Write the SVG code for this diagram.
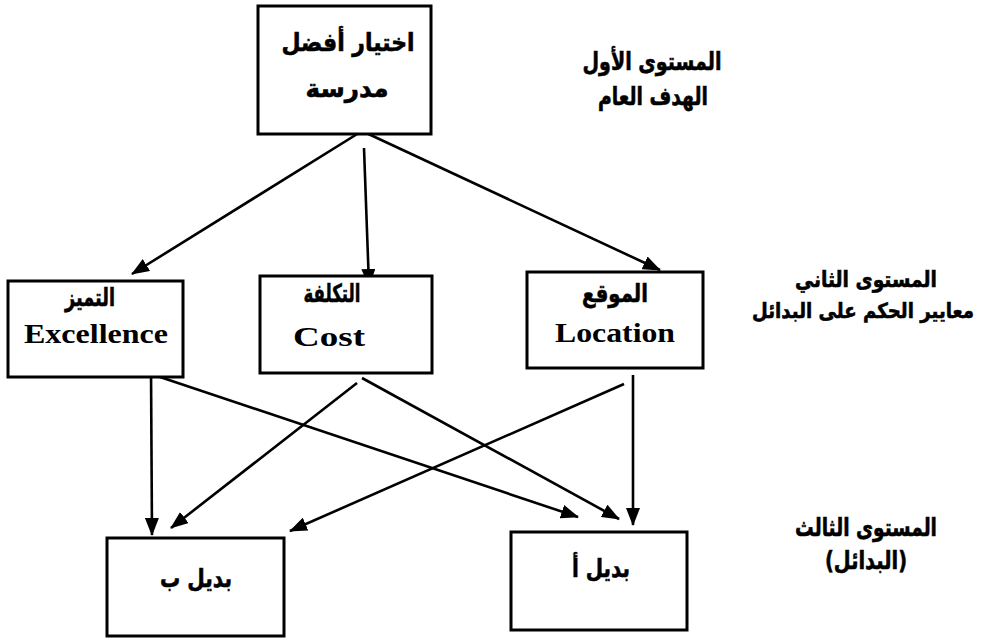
<svg xmlns="http://www.w3.org/2000/svg" width="987" height="640" viewBox="0 0 987 640">
<defs>
<style>
.box{fill:#fff;stroke:#000;stroke-width:3}
.ar{font-family:"DejaVu Sans","Noto Sans",sans-serif;font-weight:bold;font-size:25px;fill:#000;stroke:#000;stroke-width:0.6;text-anchor:middle}
.sm{font-size:22px}
.en{font-family:"Liberation Serif","Times New Roman",serif;font-weight:bold;font-size:28px;fill:#000;text-anchor:middle}
.ln{stroke:#000;stroke-width:2.6;fill:none;marker-end:url(#ah)}
</style>
<marker id="ah" markerUnits="userSpaceOnUse" markerWidth="18" markerHeight="14" refX="17" refY="7" orient="auto">
<path d="M0,0 L18,7 L0,14 z" fill="#000"/>
</marker>
</defs>
<rect width="987" height="640" fill="#fff"/>
<g id="connectors">
<line class="ln" x1="362" y1="131" x2="132" y2="274"/>
<line class="ln" x1="364" y1="148" x2="369" y2="286"/>
<line class="ln" x1="362" y1="131" x2="660" y2="270"/>
<line class="ln" x1="151" y1="369" x2="152" y2="535"/>
<line class="ln" x1="157" y1="376" x2="578" y2="517"/>
<line class="ln" x1="357" y1="383" x2="171" y2="528"/>
<line class="ln" x1="362" y1="378" x2="619" y2="519"/>
<line class="ln" x1="633" y1="375" x2="633" y2="525"/>
<line class="ln" x1="624" y1="384" x2="290" y2="531"/>
</g>
<g id="goal">
<rect class="box" x="258" y="6" width="173" height="128"/>
<text class="ar" x="348" y="51" textLength="133" lengthAdjust="spacingAndGlyphs">اختيار أفضل</text>
<text class="ar" x="347" y="97" textLength="83" lengthAdjust="spacingAndGlyphs">مدرسة</text>
</g>
<g id="excellence">
<rect class="box" x="8" y="281" width="175" height="96"/>
<text class="ar" x="90" y="306" textLength="50" lengthAdjust="spacingAndGlyphs">التميز</text>
<text class="en" x="96" y="343" textLength="144" lengthAdjust="spacingAndGlyphs">Excellence</text>
</g>
<g id="cost">
<rect class="box" x="260" y="276" width="172" height="97"/>
<text class="ar" x="332" y="302" textLength="57" lengthAdjust="spacingAndGlyphs">التكلفة</text>
<text class="en" x="329" y="346" textLength="72" lengthAdjust="spacingAndGlyphs">Cost</text>
</g>
<g id="location">
<rect class="box" x="527" y="272" width="176" height="96"/>
<text class="ar" x="615" y="302" textLength="66" lengthAdjust="spacingAndGlyphs">الموقع</text>
<text class="en" x="615" y="342" textLength="120" lengthAdjust="spacingAndGlyphs">Location</text>
</g>
<g id="altB">
<rect class="box" x="107" y="538" width="177" height="98"/>
<text class="ar" x="196" y="587" textLength="72" lengthAdjust="spacingAndGlyphs">بديل ب</text>
</g>
<g id="altA">
<rect class="box" x="511" y="532" width="176" height="98"/>
<text class="ar" x="601" y="577" textLength="58" lengthAdjust="spacingAndGlyphs">بديل أ</text>
</g>
<g id="levels">
<text class="ar" x="652" y="70" textLength="139" lengthAdjust="spacingAndGlyphs">المستوى الأول</text>
<text class="ar" x="653" y="105" textLength="110" lengthAdjust="spacingAndGlyphs">الهدف العام</text>
<text class="ar sm" x="866" y="287" textLength="142" lengthAdjust="spacingAndGlyphs">المستوى الثاني</text>
<text class="ar" x="974" y="318" font-size="21" text-anchor="end" style="text-anchor:end;font-size:21px" textLength="222" lengthAdjust="spacingAndGlyphs">معايير الحكم على البدائل</text>
<text class="ar" x="866" y="536" textLength="142" lengthAdjust="spacingAndGlyphs">المستوى الثالث</text>
<text class="ar" x="866" y="569" textLength="82" lengthAdjust="spacingAndGlyphs">(البدائل)</text>
</g>
</svg>
